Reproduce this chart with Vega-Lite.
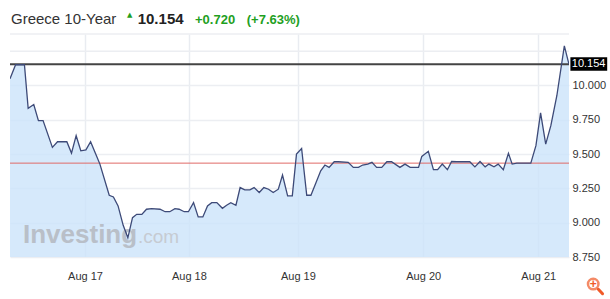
{
  "$schema": "https://vega.github.io/schema/vega-lite/v6.json",
  "width": 559,
  "height": 223,
  "autosize": {"type": "none"},
  "padding": {"left": 10, "top": 34, "right": 41, "bottom": 42},
  "background": "white",
  "config": {
    "view": {"stroke": null},
    "font": "Liberation Sans",
    "axis": {"labelFont": "Liberation Sans", "labelOverlap": false, "labelFlush": false}
  },
  "datasets": {
    "yield": [
      {"t": 0, "v": 10.049}, {"t": 1.2, "v": 10.151}, {"t": 3.1, "v": 10.151}, {"t": 3.9, "v": 9.834},
      {"t": 5.1, "v": 9.861}, {"t": 6.1, "v": 9.744}, {"t": 7.1, "v": 9.744}, {"t": 9.1, "v": 9.549},
      {"t": 10.2, "v": 9.59}, {"t": 12.2, "v": 9.59}, {"t": 13.2, "v": 9.507}, {"t": 14.2, "v": 9.634},
      {"t": 15.2, "v": 9.524}, {"t": 16.3, "v": 9.531}, {"t": 17.3, "v": 9.59}, {"t": 18.4, "v": 9.5},
      {"t": 19.3, "v": 9.427}, {"t": 21.3, "v": 9.2}, {"t": 22.2, "v": 9.188}, {"t": 23.2, "v": 9.122},
      {"t": 24.3, "v": 8.981}, {"t": 25.3, "v": 8.89}, {"t": 26.3, "v": 9.037}, {"t": 27.2, "v": 9.061},
      {"t": 28.3, "v": 9.061}, {"t": 29.3, "v": 9.098}, {"t": 30.4, "v": 9.102}, {"t": 32.2, "v": 9.098},
      {"t": 33.3, "v": 9.08}, {"t": 34.3, "v": 9.08}, {"t": 35.4, "v": 9.102}, {"t": 36.3, "v": 9.098},
      {"t": 37.4, "v": 9.08}, {"t": 38.3, "v": 9.08}, {"t": 39.4, "v": 9.146}, {"t": 40.4, "v": 9.042},
      {"t": 41.4, "v": 9.042}, {"t": 42.4, "v": 9.122}, {"t": 43.3, "v": 9.146}, {"t": 44.4, "v": 9.146},
      {"t": 45.6, "v": 9.105}, {"t": 46.5, "v": 9.127}, {"t": 47.4, "v": 9.146}, {"t": 48.5, "v": 9.127},
      {"t": 49.4, "v": 9.256}, {"t": 50.4, "v": 9.239}, {"t": 51.5, "v": 9.239}, {"t": 52.4, "v": 9.256},
      {"t": 53.5, "v": 9.22}, {"t": 54.5, "v": 9.256}, {"t": 55.5, "v": 9.244}, {"t": 56.5, "v": 9.22},
      {"t": 57.6, "v": 9.244}, {"t": 58.5, "v": 9.347}, {"t": 59.6, "v": 9.195}, {"t": 60.6, "v": 9.195},
      {"t": 61.5, "v": 9.5}, {"t": 62.6, "v": 9.541}, {"t": 63.7, "v": 9.2}, {"t": 64.6, "v": 9.2},
      {"t": 65.7, "v": 9.293}, {"t": 66.7, "v": 9.378}, {"t": 67.6, "v": 9.42}, {"t": 68.5, "v": 9.403},
      {"t": 69.6, "v": 9.444}, {"t": 70.5, "v": 9.444}, {"t": 72.6, "v": 9.44}, {"t": 73.7, "v": 9.403},
      {"t": 74.8, "v": 9.403}, {"t": 75.7, "v": 9.42}, {"t": 76.8, "v": 9.427}, {"t": 77.7, "v": 9.44},
      {"t": 78.7, "v": 9.403}, {"t": 79.8, "v": 9.403}, {"t": 80.9, "v": 9.444}, {"t": 81.9, "v": 9.444},
      {"t": 83.7, "v": 9.403}, {"t": 84.8, "v": 9.427}, {"t": 85.9, "v": 9.403}, {"t": 87.7, "v": 9.403},
      {"t": 88.4, "v": 9.483}, {"t": 89.8, "v": 9.52}, {"t": 90.9, "v": 9.386}, {"t": 91.8, "v": 9.386},
      {"t": 92.8, "v": 9.427}, {"t": 93.9, "v": 9.386}, {"t": 94.8, "v": 9.446}, {"t": 95.9, "v": 9.444},
      {"t": 98.7, "v": 9.444}, {"t": 99.8, "v": 9.407}, {"t": 100.9, "v": 9.446}, {"t": 102.0, "v": 9.407},
      {"t": 102.8, "v": 9.427}, {"t": 103.9, "v": 9.407}, {"t": 104.8, "v": 9.427}, {"t": 105.9, "v": 9.386},
      {"t": 107.0, "v": 9.505}, {"t": 107.8, "v": 9.427}, {"t": 108.8, "v": 9.434}, {"t": 111.8, "v": 9.434},
      {"t": 112.9, "v": 9.561}, {"t": 113.9, "v": 9.8}, {"t": 115.0, "v": 9.573}, {"t": 116.1, "v": 9.707},
      {"t": 117.4, "v": 9.927}, {"t": 119.0, "v": 10.288}, {"t": 120.0, "v": 10.154}
    ],
    "extraGrid": [{"v": 10.25}, {"v": 10.375}]
  },
  "layer": [
    {
      "data": {"name": "yield"},
      "mark": {"type": "area", "color": "#cce3fa", "opacity": 0.8, "clip": true},
      "encoding": {
        "x": {
          "field": "t", "type": "quantitative",
          "scale": {"domain": [0, 120], "nice": false, "zero": false},
          "axis": {
            "title": null,
            "values": [16.1, 38.4, 61.8, 88.7, 113.4],
            "labelExpr": "datum.value < 20 ? 'Aug 17' : datum.value < 50 ? 'Aug 18' : datum.value < 70 ? 'Aug 19' : datum.value < 100 ? 'Aug 20' : 'Aug 21'",
            "grid": true, "gridColor": "#e9ecf1", "gridWidth": 1.5,
            "ticks": false, "domain": false, "labelFlush": false, "labelOverlap": false,
            "labelPadding": 13, "labelFontSize": 11, "labelColor": "#333333"
          }
        },
        "y": {
          "field": "v", "type": "quantitative",
          "scale": {"domain": [8.75, 10.375], "nice": false, "zero": false},
          "axis": {
            "title": null, "orient": "right",
            "values": [8.75, 9, 9.25, 9.5, 9.75, 10],
            "format": ".3f",
            "grid": true, "gridColor": "#eceef2", "gridWidth": 1.5,
            "ticks": false, "domain": false, "labelOverlap": false, "labelFlush": false,
            "labelPadding": 3, "labelFontSize": 11, "labelColor": "#333333"
          }
        },
        "y2": {"datum": 8.75}
      }
    },
    {
      "data": {"name": "extraGrid"},
      "mark": {"type": "rule", "color": "#eceef2", "strokeWidth": 1.5},
      "encoding": {"y": {"field": "v", "type": "quantitative"}}
    },
    {
      "data": {"values": [{}]},
      "mark": {"type": "text", "text": "Investing", "color": "#b9bfc8", "fontSize": 26, "fontWeight": "bold", "align": "left", "baseline": "alphabetic", "font": "Liberation Sans"},
      "encoding": {"x": {"datum": 2.79}, "y": {"datum": 8.852}}
    },
    {
      "data": {"values": [{}]},
      "mark": {"type": "text", "text": ".com", "color": "#c6cbd2", "fontSize": 19, "align": "left", "baseline": "alphabetic", "font": "Liberation Sans"},
      "encoding": {"x": {"datum": 27.48}, "y": {"datum": 8.852}}
    },
    {
      "data": {"values": [{}]},
      "mark": {"type": "rule", "color": "#e06a66", "strokeWidth": 1},
      "encoding": {"y": {"datum": 9.434}}
    },
    {
      "data": {"values": [{}]},
      "mark": {"type": "rule", "color": "#444444", "strokeWidth": 2},
      "encoding": {"y": {"datum": 10.154}}
    },
    {
      "data": {"name": "yield"},
      "mark": {"type": "line", "color": "#3d4a78", "strokeWidth": 1.3, "clip": true},
      "encoding": {
        "x": {"field": "t", "type": "quantitative"},
        "y": {"field": "v", "type": "quantitative"}
      }
    },
    {
      "data": {"values": [{}]},
      "mark": {"type": "rect", "color": "#000000", "clip": false},
      "encoding": {
        "x": {"datum": 120.3}, "x2": {"datum": 128.2},
        "y": {"datum": 10.205}, "y2": {"datum": 10.107}
      }
    },
    {
      "data": {"values": [{}]},
      "mark": {"type": "text", "text": "10.154", "color": "#ffffff", "fontSize": 11, "align": "left", "baseline": "middle", "font": "Liberation Sans"},
      "encoding": {"x": {"datum": 120.6}, "y": {"datum": 10.154}}
    },
    {
      "data": {"values": [{}]},
      "mark": {"type": "text", "text": "Greece 10-Year", "color": "#333333", "fontSize": 15, "align": "left", "baseline": "alphabetic", "font": "Liberation Sans"},
      "encoding": {"x": {"datum": 0.21}, "y": {"datum": 10.448}}
    },
    {
      "data": {"values": [{}]},
      "mark": {"type": "text", "text": "▲", "color": "#1fa01f", "fontSize": 7, "align": "center", "baseline": "middle", "font": "DejaVu Sans"},
      "encoding": {"x": {"datum": 25.7}, "y": {"datum": 10.513}}
    },
    {
      "data": {"values": [{}]},
      "mark": {"type": "text", "text": "10.154", "color": "#222222", "fontSize": 15, "fontWeight": "bold", "align": "left", "baseline": "alphabetic", "font": "Liberation Sans"},
      "encoding": {"x": {"datum": 27.41}, "y": {"datum": 10.448}}
    },
    {
      "data": {"values": [{}]},
      "mark": {"type": "text", "text": "+0.720", "color": "#1fa01f", "fontSize": 13, "fontWeight": "bold", "align": "left", "baseline": "alphabetic", "font": "Liberation Sans"},
      "encoding": {"x": {"datum": 39.72}, "y": {"datum": 10.448}}
    },
    {
      "data": {"values": [{}]},
      "mark": {"type": "text", "text": "(+7.63%)", "color": "#1fa01f", "fontSize": 13, "fontWeight": "bold", "align": "left", "baseline": "alphabetic", "font": "Liberation Sans"},
      "encoding": {"x": {"datum": 50.82}, "y": {"datum": 10.448}}
    },
    {
      "data": {"values": [{}]},
      "mark": {"type": "rule", "color": "#f05a28", "strokeWidth": 3, "strokeCap": "round", "clip": false},
      "encoding": {"x": {"datum": 126.3}, "x2": {"datum": 127.2}, "y": {"datum": 8.515}, "y2": {"datum": 8.482}}
    },
    {
      "data": {"values": [{}]},
      "mark": {"type": "point", "shape": "circle", "color": "#f05a28", "filled": false, "strokeWidth": 2.5, "size": 110, "clip": false},
      "encoding": {"x": {"datum": 125.2}, "y": {"datum": 8.553}}
    },
    {
      "data": {"values": [{}]},
      "mark": {"type": "text", "text": "+", "color": "#f05a28", "fontSize": 12, "fontWeight": "bold", "align": "center", "baseline": "middle", "font": "Liberation Sans"},
      "encoding": {"x": {"datum": 125.2}, "y": {"datum": 8.553}}
    }
  ]
}
